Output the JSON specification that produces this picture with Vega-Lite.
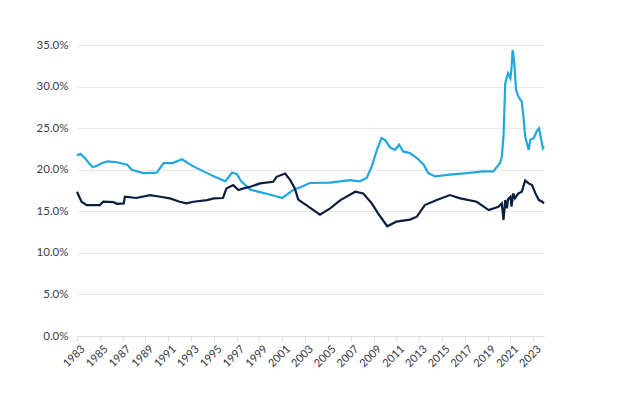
{
  "$schema": "https://vega.github.io/schema/vega-lite/v6.json",
  "width": 467,
  "height": 291,
  "autosize": {"type": "none"},
  "padding": {"left": 77, "top": 45, "right": 80, "bottom": 62},
  "background": "white",
  "config": {"view": {"stroke": null}, "font": "Lato"},
  "datasets": {
    "s": [
      {"t": 1983.0, "series": "Spending", "v": 21.7},
      {"t": 1983.3, "series": "Spending", "v": 21.9},
      {"t": 1983.7, "series": "Spending", "v": 21.4},
      {"t": 1984.1, "series": "Spending", "v": 20.7},
      {"t": 1984.4, "series": "Spending", "v": 20.3},
      {"t": 1984.8, "series": "Spending", "v": 20.5},
      {"t": 1985.2, "series": "Spending", "v": 20.8},
      {"t": 1985.7, "series": "Spending", "v": 21.0},
      {"t": 1986.5, "series": "Spending", "v": 20.9},
      {"t": 1987.4, "series": "Spending", "v": 20.6},
      {"t": 1987.8, "series": "Spending", "v": 20.0},
      {"t": 1988.8, "series": "Spending", "v": 19.6},
      {"t": 1990.0, "series": "Spending", "v": 19.65},
      {"t": 1990.6, "series": "Spending", "v": 20.8},
      {"t": 1991.4, "series": "Spending", "v": 20.8},
      {"t": 1992.2, "series": "Spending", "v": 21.25},
      {"t": 1993.2, "series": "Spending", "v": 20.4},
      {"t": 1994.1, "series": "Spending", "v": 19.8},
      {"t": 1995.0, "series": "Spending", "v": 19.2},
      {"t": 1996.0, "series": "Spending", "v": 18.6},
      {"t": 1996.6, "series": "Spending", "v": 19.65},
      {"t": 1997.0, "series": "Spending", "v": 19.5},
      {"t": 1997.4, "series": "Spending", "v": 18.6},
      {"t": 1998.2, "series": "Spending", "v": 17.6},
      {"t": 1999.05, "series": "Spending", "v": 17.3},
      {"t": 2000.2, "series": "Spending", "v": 16.9},
      {"t": 2001.0, "series": "Spending", "v": 16.6},
      {"t": 2002.0, "series": "Spending", "v": 17.6},
      {"t": 2002.6, "series": "Spending", "v": 17.9},
      {"t": 2003.4, "series": "Spending", "v": 18.4},
      {"t": 2005.2, "series": "Spending", "v": 18.45},
      {"t": 2006.9, "series": "Spending", "v": 18.75},
      {"t": 2007.8, "series": "Spending", "v": 18.6},
      {"t": 2008.4, "series": "Spending", "v": 19.0},
      {"t": 2008.85, "series": "Spending", "v": 20.4},
      {"t": 2009.3, "series": "Spending", "v": 22.4},
      {"t": 2009.7, "series": "Spending", "v": 23.8},
      {"t": 2010.0, "series": "Spending", "v": 23.6},
      {"t": 2010.5, "series": "Spending", "v": 22.6},
      {"t": 2010.9, "series": "Spending", "v": 22.4},
      {"t": 2011.25, "series": "Spending", "v": 23.0},
      {"t": 2011.6, "series": "Spending", "v": 22.2},
      {"t": 2012.2, "series": "Spending", "v": 22.0},
      {"t": 2012.8, "series": "Spending", "v": 21.4},
      {"t": 2013.4, "series": "Spending", "v": 20.6},
      {"t": 2013.8, "series": "Spending", "v": 19.6},
      {"t": 2014.4, "series": "Spending", "v": 19.2},
      {"t": 2015.7, "series": "Spending", "v": 19.4},
      {"t": 2017.2, "series": "Spending", "v": 19.6},
      {"t": 2018.6, "series": "Spending", "v": 19.8},
      {"t": 2019.5, "series": "Spending", "v": 19.8},
      {"t": 2020.1, "series": "Spending", "v": 20.8},
      {"t": 2020.25, "series": "Spending", "v": 21.6},
      {"t": 2020.4, "series": "Spending", "v": 24.0},
      {"t": 2020.55, "series": "Spending", "v": 30.4},
      {"t": 2020.8, "series": "Spending", "v": 31.6},
      {"t": 2021.0, "series": "Spending", "v": 31.0},
      {"t": 2021.1, "series": "Spending", "v": 32.2},
      {"t": 2021.2, "series": "Spending", "v": 34.4},
      {"t": 2021.35, "series": "Spending", "v": 32.8},
      {"t": 2021.5, "series": "Spending", "v": 29.6},
      {"t": 2021.7, "series": "Spending", "v": 28.8},
      {"t": 2022.0, "series": "Spending", "v": 28.2},
      {"t": 2022.15, "series": "Spending", "v": 26.4},
      {"t": 2022.3, "series": "Spending", "v": 24.0},
      {"t": 2022.6, "series": "Spending", "v": 22.4},
      {"t": 2022.75, "series": "Spending", "v": 23.6},
      {"t": 2023.05, "series": "Spending", "v": 23.8},
      {"t": 2023.3, "series": "Spending", "v": 24.6},
      {"t": 2023.5, "series": "Spending", "v": 25.0},
      {"t": 2023.6, "series": "Spending", "v": 24.4},
      {"t": 2023.85, "series": "Spending", "v": 22.6},
      {"t": 2023.95, "series": "Spending", "v": 22.8},

      {"t": 1983.0, "series": "Revenue", "v": 17.35},
      {"t": 1983.4, "series": "Revenue", "v": 16.15},
      {"t": 1983.85, "series": "Revenue", "v": 15.75},
      {"t": 1985.0, "series": "Revenue", "v": 15.75},
      {"t": 1985.3, "series": "Revenue", "v": 16.15},
      {"t": 1986.2, "series": "Revenue", "v": 16.1},
      {"t": 1986.5, "series": "Revenue", "v": 15.9},
      {"t": 1987.1, "series": "Revenue", "v": 15.95},
      {"t": 1987.2, "series": "Revenue", "v": 16.75},
      {"t": 1988.2, "series": "Revenue", "v": 16.6},
      {"t": 1989.4, "series": "Revenue", "v": 16.95},
      {"t": 1990.3, "series": "Revenue", "v": 16.75},
      {"t": 1991.15, "series": "Revenue", "v": 16.55},
      {"t": 1992.0, "series": "Revenue", "v": 16.15},
      {"t": 1992.6, "series": "Revenue", "v": 15.95},
      {"t": 1993.2, "series": "Revenue", "v": 16.15},
      {"t": 1994.4, "series": "Revenue", "v": 16.35},
      {"t": 1995.0, "series": "Revenue", "v": 16.55},
      {"t": 1995.8, "series": "Revenue", "v": 16.6},
      {"t": 1996.1, "series": "Revenue", "v": 17.75},
      {"t": 1996.7, "series": "Revenue", "v": 18.15},
      {"t": 1997.15, "series": "Revenue", "v": 17.55},
      {"t": 1997.6, "series": "Revenue", "v": 17.75},
      {"t": 1998.2, "series": "Revenue", "v": 17.95},
      {"t": 1999.05, "series": "Revenue", "v": 18.35},
      {"t": 2000.2, "series": "Revenue", "v": 18.55},
      {"t": 2000.5, "series": "Revenue", "v": 19.15},
      {"t": 2001.25, "series": "Revenue", "v": 19.55},
      {"t": 2001.7, "series": "Revenue", "v": 18.75},
      {"t": 2002.1, "series": "Revenue", "v": 17.75},
      {"t": 2002.4, "series": "Revenue", "v": 16.4},
      {"t": 2003.3, "series": "Revenue", "v": 15.55},
      {"t": 2004.3, "series": "Revenue", "v": 14.6},
      {"t": 2005.2, "series": "Revenue", "v": 15.35},
      {"t": 2006.1, "series": "Revenue", "v": 16.35},
      {"t": 2007.4, "series": "Revenue", "v": 17.35},
      {"t": 2008.1, "series": "Revenue", "v": 17.15},
      {"t": 2008.85, "series": "Revenue", "v": 15.95},
      {"t": 2009.4, "series": "Revenue", "v": 14.75},
      {"t": 2010.2, "series": "Revenue", "v": 13.2},
      {"t": 2011.0, "series": "Revenue", "v": 13.75},
      {"t": 2012.2, "series": "Revenue", "v": 14.0},
      {"t": 2012.8, "series": "Revenue", "v": 14.35},
      {"t": 2013.5, "series": "Revenue", "v": 15.75},
      {"t": 2014.55, "series": "Revenue", "v": 16.35},
      {"t": 2015.7, "series": "Revenue", "v": 16.95},
      {"t": 2016.6, "series": "Revenue", "v": 16.55},
      {"t": 2018.05, "series": "Revenue", "v": 16.15},
      {"t": 2019.1, "series": "Revenue", "v": 15.15},
      {"t": 2019.95, "series": "Revenue", "v": 15.55},
      {"t": 2020.25, "series": "Revenue", "v": 15.95},
      {"t": 2020.4, "series": "Revenue", "v": 13.95},
      {"t": 2020.55, "series": "Revenue", "v": 16.35},
      {"t": 2020.7, "series": "Revenue", "v": 15.35},
      {"t": 2020.8, "series": "Revenue", "v": 16.45},
      {"t": 2021.0, "series": "Revenue", "v": 16.75},
      {"t": 2021.1, "series": "Revenue", "v": 15.55},
      {"t": 2021.25, "series": "Revenue", "v": 17.15},
      {"t": 2021.4, "series": "Revenue", "v": 16.55},
      {"t": 2021.7, "series": "Revenue", "v": 17.15},
      {"t": 2022.0, "series": "Revenue", "v": 17.35},
      {"t": 2022.3, "series": "Revenue", "v": 18.7},
      {"t": 2022.6, "series": "Revenue", "v": 18.35},
      {"t": 2022.9, "series": "Revenue", "v": 18.15},
      {"t": 2023.2, "series": "Revenue", "v": 17.15},
      {"t": 2023.5, "series": "Revenue", "v": 16.35},
      {"t": 2023.8, "series": "Revenue", "v": 16.15},
      {"t": 2023.95, "series": "Revenue", "v": 15.95}
    ]
  },
  "data": {"name": "s"},
  "mark": {"type": "line", "strokeWidth": 2.2, "interpolate": "linear"},
  "encoding": {
    "x": {
      "field": "t",
      "type": "quantitative",
      "scale": {"domain": [1983, 2023.95], "nice": false, "zero": false},
      "axis": {
        "title": null,
        "values": [1983, 1985, 1987, 1989, 1991, 1993, 1995, 1997, 1999, 2001, 2003, 2005, 2007, 2009, 2011, 2013, 2015, 2017, 2019, 2021, 2023],
        "format": "d",
        "labelAngle": -45,
        "labelAlign": "right",
        "labelBaseline": "middle",
        "labelOverlap": false,
        "labelBound": false,
        "labelFlush": false,
        "labelFontSize": 11,
        "labelColor": "#2f3640",
        "labelPadding": 6,
        "labelOffset": 6,
        "tickColor": "#dddddd",
        "tickSize": 5,
        "domainColor": "#dddddd",
        "grid": false
      }
    },
    "y": {
      "field": "v",
      "type": "quantitative",
      "scale": {"domain": [0, 35], "nice": false},
      "axis": {
        "title": null,
        "values": [0, 5, 10, 15, 20, 25, 30, 35],
        "labelExpr": "format(datum.value, '.1f') + '%'",
        "labelFontSize": 11.5,
        "labelColor": "#3a3f4a",
        "labelPadding": 9,
        "ticks": false,
        "domain": false,
        "gridColor": "#e6e6e6"
      }
    },
    "color": {
      "field": "series",
      "type": "nominal",
      "scale": {"domain": ["Spending", "Revenue"], "range": ["#22a6de", "#0b1f3f"]},
      "legend": null
    }
  }
}
